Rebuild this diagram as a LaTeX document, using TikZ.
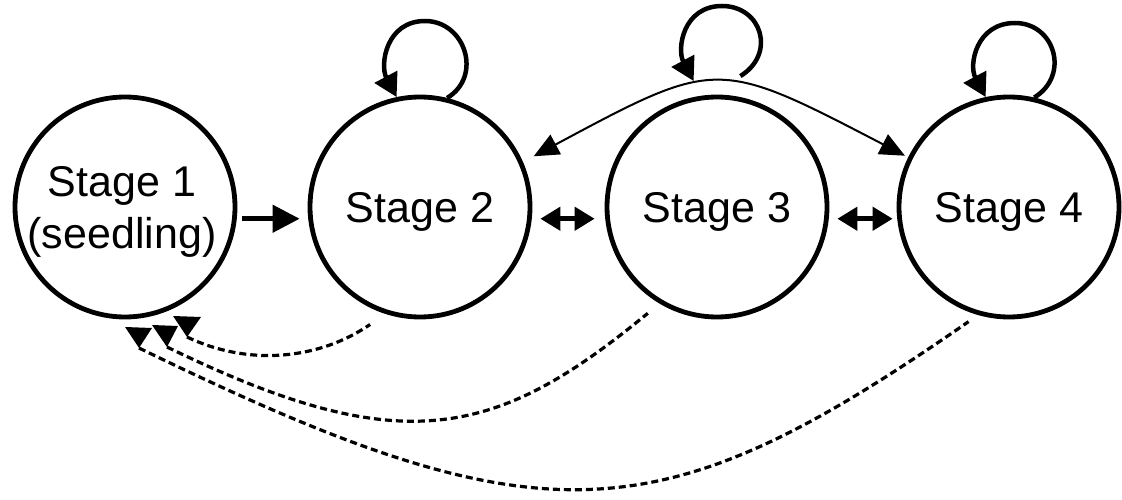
\documentclass[tikz,border=0pt]{standalone}
\usepackage{fontspec}
\setmainfont{Liberation Sans}
\usetikzlibrary{arrows.meta}
\begin{document}
\begin{tikzpicture}[x=1pt,y=1pt,
  stage/.style={circle, draw, line width=4.8pt, minimum size=220pt, inner sep=0pt},
  stagetext/.style={align=center, inner sep=0pt, font=\fontsize{43pt}{52pt}\selectfont},
  thickarrow/.style={line width=4.5pt, -{Triangle[length=27pt,width=27pt]}},
  dblarrow/.style={line width=4.5pt, {Triangle[length=20pt,width=23pt]}-{Triangle[length=20pt,width=23pt]}},
  selfloop/.style={line width=4.5pt, -{Triangle[length=23pt,width=25pt]}},
  arcarrow/.style={line width=2pt, {Triangle[length=25pt,width=22pt]}-{Triangle[length=25pt,width=22pt]}},
  dashline/.style={line width=3.2pt, dash pattern=on 7pt off 4pt},
  headtip/.style={fill=black}
]
\useasboundingbox (0,0) rectangle (1122,499);
\fill[white] (0,0) rectangle (1122,499);

% stages
\node[stage] (s1) at (125,292) {};
\node[stage] (s2) at (420,292) {};
\node[stage] (s3) at (717,292) {};
\node[stage] (s4) at (1009,292) {};
\node[stagetext] (l1) at ([shift={(-3pt,-5pt)}]s1.center) {Stage 1\\(seedling)};
\node[stagetext] (l2) at ([yshift=-5pt]s2.center) {Stage 2};
\node[stagetext] (l3) at ([yshift=-5pt]s3.center) {Stage 3};
\node[stagetext] (l4) at ([yshift=-5pt]s4.center) {Stage 4};

% straight arrows
\draw[thickarrow] ([xshift=5.6pt]s1.-6) -- ([xshift=-8.6pt]s2.186);
\draw[dblarrow] ([xshift=8.6pt]s2.-6) -- ([xshift=-10.6pt]s3.186);
\draw[dblarrow] ([xshift=8.6pt]s3.-6) -- ([xshift=-4.6pt]s4.186);

% self loops
\coordinate (t2) at (425,478);
\coordinate (t3) at (722,493);
\coordinate (t4) at (1015,476);
\draw[selfloop] (s2.76) .. controls +(36,22) and +(40,0) .. (t2) .. controls +(-39,0) and +(-17,32) .. (s2.102);
\draw[selfloop] ([yshift=21pt]s3.78) .. controls +(36,22) and +(40,0) .. (t3) .. controls +(-39,0) and +(-17,32) .. ([yshift=16pt]s3.102);
\draw[selfloop] (s4.77) .. controls +(36,22) and +(40,0) .. (t4) .. controls +(-39,0) and +(-17,32) .. (s4.102);

% arc between stage 2 and stage 4
\draw[arcarrow] ([shift={(11pt,5pt)}]s2.24) .. controls (717,441) .. ([shift={(-3pt,2pt)}]s4.154);

% dashed returns to stage 1
\coordinate (a1) at (187,162);
\coordinate (a2) at (167,152);
\coordinate (a3) at (139,151);
\fill[headtip] (a1) -- ++(-14,21) -- ++(28,-1) -- cycle;
\fill[headtip] (a2) -- ++(-15,22) -- ++(26,-1) -- cycle;
\fill[headtip] (a3) -- ++(-14,21) -- ++(27,-1) -- cycle;
\draw[dashline] (a1) .. controls (250,132) and (320,140) .. ([shift={(-6pt,-14pt)}]s2.247);
\draw[dashline] (a2) .. controls (401,38) and (495,60) .. ([shift={(-8pt,-12pt)}]s3.237);
\draw[dashline] (a3) .. controls (544,-46) and (658,-38) .. ([shift={(-2pt,-9pt)}]s4.250);
\end{tikzpicture}
\end{document}
